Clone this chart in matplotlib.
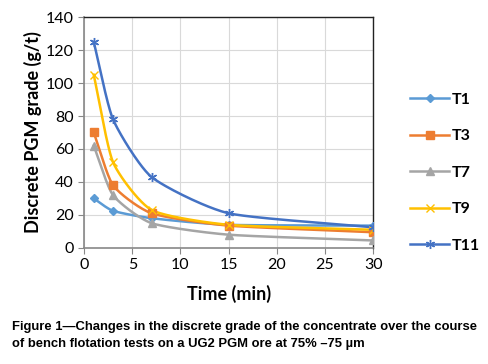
import matplotlib
matplotlib.use("Agg")
import matplotlib.pyplot as plt
import numpy as np

time_min = [1, 3, 7, 15, 30]
t1 = [30, 22.5, 18, 14, 13.5]
t3 = [70, 38, 21, 13.5, 9.5]
t7 = [62, 32, 15, 8, 4.5]
t9 = [105, 52, 23, 14, 11]
t11 = [125, 78, 43, 21, 12.5]

series = [
    ("T1", t1, "#5B9BD5", "D", 4.5),
    ("T3", t3, "#ED7D31", "s", 5.5),
    ("T7", t7, "#A5A5A5", "^", 5.5),
    ("T9", t9, "#FFC000", "x", 5.5),
    ("T11", t11, "#4472C4", (6, 2, 0), 6.5),
]


def smooth(x, y, n=40):
    """Catmull-Rom curve through the points, like Excel's smoothed line."""
    x = np.asarray(x, float)
    y = np.asarray(y, float)
    px = np.concatenate([[2 * x[0] - x[1]], x, [2 * x[-1] - x[-2]]])
    py = np.concatenate([[2 * y[0] - y[1]], y, [2 * y[-1] - y[-2]]])
    xs, ys = [], []
    t = np.linspace(0, 1, n)
    for i in range(1, len(px) - 2):
        for p, out in ((px, xs), (py, ys)):
            p0, p1, p2, p3 = p[i - 1], p[i], p[i + 1], p[i + 2]
            m1 = (p2 - p0) / 2 * 0.6
            m2 = (p3 - p1) / 2 * 0.6
            h00 = 2 * t**3 - 3 * t**2 + 1
            h10 = t**3 - 2 * t**2 + t
            h01 = -2 * t**3 + 3 * t**2
            h11 = t**3 - t**2
            out.extend(h00 * p1 + h10 * m1 + h01 * p2 + h11 * m2)
    return np.array(xs), np.array(ys)


plt.rcParams["font.family"] = ["Lato", "DejaVu Sans"]
fig = plt.figure(figsize=(4.89, 3.64), dpi=100)
ax = fig.add_axes([0.172, 0.319, 0.591, 0.634])

for name, vals, col, mk, ms in series:
    sx, sy = smooth(time_min, vals)
    ax.plot(sx, sy, color=col, lw=1.8, zorder=3)
    ax.plot(time_min, vals, linestyle="none", marker=mk, color=col, ms=ms,
            mew=1.0, zorder=4)
    ax.plot([], [], color=col, lw=1.8, marker=mk, ms=ms, mew=1.0, label=name)

ax.set_xlim(0, 30)
ax.set_ylim(0, 140)
ax.set_xticks(range(0, 31, 5))
ax.set_yticks(range(0, 141, 20))
ax.grid(color="#D9D9D9", lw=0.8)
ax.set_axisbelow(True)
ax.tick_params(labelsize=11.5, length=4, color="#888888")
for s in ("left", "bottom"):
    ax.spines[s].set_color("#888888")
    ax.spines[s].set_linewidth(1.2)
for s in ("top", "right"):
    ax.spines[s].set_color("#222222")
    ax.spines[s].set_linewidth(1.0)

ax.set_xlabel("Time (min)", fontsize=13, fontweight="bold", labelpad=9)
ax.set_ylabel("Discrete PGM grade (g/t)", fontsize=13, fontweight="bold", labelpad=3)

leg = fig.legend(loc="upper left", bbox_to_anchor=(0.81, 0.785), frameon=False,
                 prop={"weight": "bold", "size": 11.5}, handlelength=2.4,
                 labelspacing=1.4, handletextpad=0.2)

fig.text(0.024, 0.079, "Figure 1\u2014Changes in the discrete grade of the concentrate over the course\n"
         "of bench flotation tests on a UG2 PGM ore at 75% \u201375 \u00b5m",
         fontsize=9.4, fontweight="bold", family=["Liberation Sans", "DejaVu Sans"],
         va="center", ha="left", linespacing=1.6)

fig.savefig("out.png", dpi=100)
